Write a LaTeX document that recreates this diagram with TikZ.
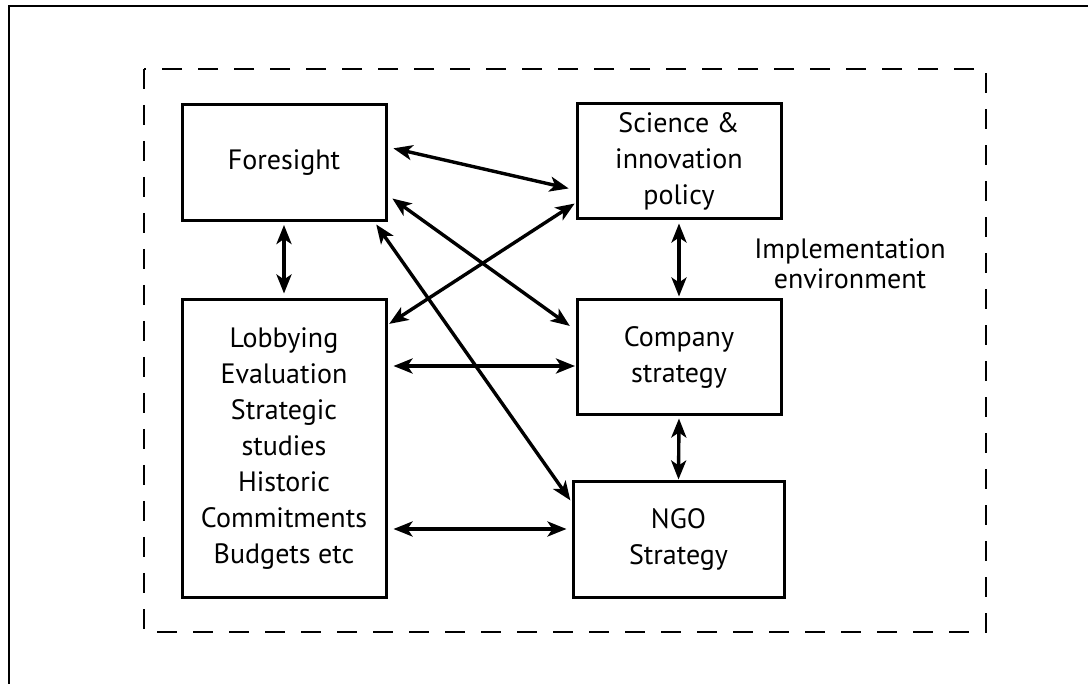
\documentclass[tikz,border=0pt]{standalone}
\usepackage{fontspec}
\setmainfont{PT Sans}
\usetikzlibrary{arrows.meta}
\begin{document}
\begin{tikzpicture}[x=1pt,y=-1pt,
  box/.style={draw,line width=3pt,minimum width=#1,inner sep=0pt,align=center,
    font=\fontsize{28}{36}\selectfont},
  box/.default=204pt,
  dbl/.style={line width=3.4pt,{Stealth[length=19pt,width=15pt,inset=5pt]}-{Stealth[length=19pt,width=15pt,inset=5pt]}},
  envtext/.style={align=center,inner sep=0pt,font=\fontsize{28}{30}\selectfont}]
\useasboundingbox (0,0) rectangle (1088,684);
% outer frame (left and top edges)
\draw[line width=2pt] (9,684) -- (9,6) -- (1088,6);
% implementation environment
\draw[line width=2pt,dash pattern=on 20pt off 16pt] (144,69) rectangle (986,632);
% boxes
\node[box=204pt,minimum height=116pt] (fore) at (284,162.5) {Foresight};
\node[box=204pt,minimum height=297pt] (lob) at (284,448.5) {Lobbying\\Evaluation\\Strategic\\studies\\Historic\\Commitments\\Budgets etc};
\node[box=204pt,minimum height=115pt] (sci) at (679,161.5) {Science \&\\innovation\\policy};
\node[box=204pt,minimum height=115pt] (comp) at (679,357.5) {Company\\strategy};
\node[box=211pt,minimum height=115pt] (ngo) at (678.5,539.5) {NGO\\Strategy};
\node[envtext] (env) at (850,264) {Implementation\\environment};
% connectors
\draw[dbl,shorten <=6pt,shorten >=7pt] ([yshift=15.5pt]fore.east) -- ([yshift=-28.5pt]sci.west);
\draw[dbl,shorten <=6pt,shorten >=7pt] ([yshift=-32.5pt]fore.east) -- ([yshift=27.5pt]comp.west);
\draw[dbl,shorten <=3pt,shorten >=2pt] ([xshift=-13pt]fore.south east) -- ([yshift=37.5pt]ngo.west);
\draw[dbl,shorten <=1pt,shorten >=2pt] ([yshift=-41.5pt]sci.west) -- ([yshift=123.5pt]lob.east);
\draw[dbl,shorten <=6pt,shorten >=0.5pt] ([yshift=82.5pt]lob.east) -- ([yshift=-8.5pt]comp.west);
\draw[dbl,shorten <=6pt,shorten >=5pt] ([yshift=-80.5pt]lob.east) -- ([yshift=10.5pt]ngo.west);
\draw[dbl,shorten <=3pt,shorten >=5pt] (fore.south) -- (lob.north);
\draw[dbl,shorten <=3pt,shorten >=2pt] (sci.south) -- (comp.north);
\draw[dbl,shorten <=2pt,shorten >=1pt] (comp.south) -- (ngo.north);
\end{tikzpicture}
\end{document}
